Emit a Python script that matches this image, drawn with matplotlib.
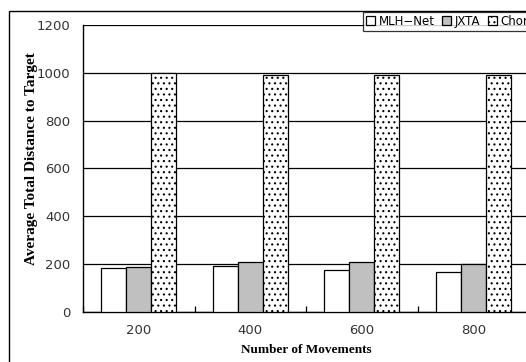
import numpy as np
import matplotlib
matplotlib.use('Agg')
import matplotlib.pyplot as plt
from matplotlib.patches import Rectangle

categories = ['200', '400', '600', '800']
mlh_net = [186, 194, 177, 166]
jxta = [190, 211, 207, 200]
chord = [1000, 990, 993, 990]

plt.rcParams['hatch.color'] = '#505050'
plt.rcParams['hatch.linewidth'] = 0.8

fig = plt.figure(figsize=(5.26, 3.62), dpi=100)
ax = fig.add_axes([83 / 526, 1 - 312 / 362, 446 / 526, 287 / 362])

x = np.arange(len(categories))
w = 0.224
ax.bar(x - w, mlh_net, w, color='white', edgecolor='black', linewidth=0.9, label='MLH\u2212Net', zorder=3)
ax.bar(x, jxta, w, color='#c0c0c0', edgecolor='black', linewidth=0.9, label='JXTA', zorder=3)
ax.bar(x + w, chord, w, color='white', edgecolor='black', linewidth=0.9, hatch='...', label='Chord', zorder=3)

ax.set_xlim(-0.5, len(categories) - 0.5)
ax.set_ylim(0, 1200)
ax.set_yticks(range(0, 1201, 200))
ax.set_xticks(x)
ax.set_xticklabels(categories)
ax.set_xticks(np.arange(-0.5, len(categories), 1), minor=True)
ax.tick_params(axis='x', which='major', length=0, pad=9, labelsize=9.5, labelcolor='#333333')
ax.tick_params(axis='x', which='minor', direction='in', length=4, width=0.9)
ax.tick_params(axis='y', length=0, pad=9, labelsize=9.5, labelcolor='#333333')
ax.yaxis.grid(True, color='black', linewidth=0.9)
ax.set_axisbelow(True)
for s in ['top', 'right']:
    ax.spines[s].set_visible(False)
ax.spines['left'].set_linewidth(1.0)
ax.spines['bottom'].set_linewidth(1.0)

ax.set_xlabel('Number of Movements', family='Liberation Serif', fontweight='bold', fontsize=9.5, labelpad=5)
ax.set_ylabel('Average Total Distance to Target', family='Liberation Serif', fontweight='bold', fontsize=11, labelpad=2)
ax.yaxis.set_label_coords(-0.10, 0.533)

leg = fig.legend(loc='upper left', bbox_to_anchor=(363 / 526, 1 - 12 / 362), ncol=3,
                 fontsize=8.5, frameon=True, fancybox=False, edgecolor='black',
                 handlelength=0.8, handleheight=0.8, handletextpad=0.3, columnspacing=0.6,
                 borderpad=0.25, borderaxespad=0)
leg.get_frame().set_linewidth(0.9)

fig.patches.append(Rectangle((9 / 526, -0.1), 1.2, 1 - 11 / 362 + 0.1, transform=fig.transFigure,
                             fill=False, edgecolor='black', linewidth=1.0))

fig.savefig('out.png', dpi=100)
